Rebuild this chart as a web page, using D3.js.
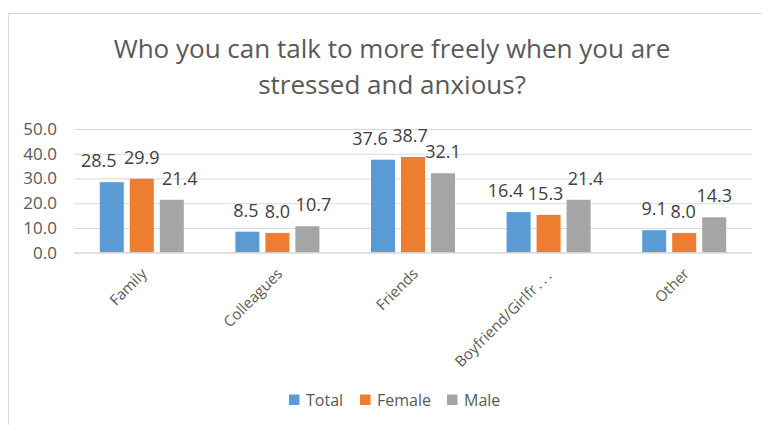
<!DOCTYPE html>
<html>
<head>
<meta charset="utf-8">
<script src="https://cdn.jsdelivr.net/npm/d3@7"></script>
<style>
  html, body { margin: 0; padding: 0; background: #fff; overflow: hidden; }
  svg { display: block; }
  text { font-family: "Open Sans", sans-serif; }
</style>
</head>
<body>
<div id="chart"></div>
<script>
// Survey answers: share of respondents (%) per confidant group
const categories = ["Family", "Colleagues", "Friends", "Boyfriend/Girlfriend", "Other"];
const seriesNames = ["Total", "Female", "Male"];
const totalValues  = [28.5, 8.5, 37.6, 16.4, 9.1];
const femaleValues = [29.9, 8.0, 38.7, 15.3, 8.0];
const maleValues   = [21.4, 10.7, 32.1, 21.4, 14.3];
const yTicks = [0, 10, 20, 30, 40, 50];
const titleLines = ["Who you can talk to more freely when you are", "stressed and anxious?"];

const seriesValues = [totalValues, femaleValues, maleValues];
const colors = ["#5b9bd5", "#ed7d31", "#a5a5a5"];

// Horizontal nudges that keep neighbouring value labels from colliding
const labelShift = [
  [-13, 0, 8],
  [-1.5, 0, 6],
  [-13, -3, 0],
  [-13, -3, 7],
  [0, -1, 0]
];

const W = 762, H = 425;
const plot = { left: 74, right: 752, top: 129, bottom: 252.7 };

const svg = d3.select("#chart").append("svg")
  .attr("width", W).attr("height", H);

// chart frame (runs off the right and bottom edges)
svg.append("rect")
  .attr("x", 8.5).attr("y", 13.5)
  .attr("width", W + 20).attr("height", H + 20)
  .attr("fill", "#fff").attr("stroke", "#d9d9d9").attr("stroke-width", 1);

// title
svg.append("g").selectAll("text").data(titleLines).join("text")
  .attr("x", 392).attr("y", (d, i) => 57.5 + i * 36)
  .attr("text-anchor", "middle")
  .attr("fill", "#595959")
  .attr("font-size", 26)
  .text(d => d);

const x0 = d3.scaleBand().domain(categories).range([plot.left, plot.right]).paddingInner(0).paddingOuter(0);
const barW = 24, barGap = 6;
const x1 = d3.scaleBand().domain(seriesNames)
  .range([-(barW * 1.5 + barGap), barW * 1.5 + barGap])
  .paddingInner(barGap / (barW + barGap)).paddingOuter(0);
const y = d3.scaleLinear().domain([0, 50]).range([plot.bottom, plot.top]);

// gridlines + y tick labels
const yAxis = d3.axisLeft(y).tickValues(yTicks)
  .tickSize(-(plot.right - plot.left)).tickPadding(17)
  .tickFormat(d3.format(".1f"));
const yg = svg.append("g").attr("transform", `translate(${plot.left},0)`).call(yAxis);
yg.select(".domain").remove();
yg.selectAll(".tick line").attr("stroke", "#d9d9d9").attr("stroke-width", 1);
yg.selectAll(".tick text").attr("fill", "#595959").attr("font-size", 17)
  .attr("font-family", "'Open Sans', sans-serif");

// bars
const groups = svg.append("g").selectAll("g").data(categories).join("g")
  .attr("transform", d => `translate(${x0(d) + x0.bandwidth() / 2},0)`);

groups.selectAll("rect")
  .data((c, ci) => seriesNames.map((s, si) => ({ s, si, ci, v: seriesValues[si][ci] })))
  .join("rect")
  .attr("x", d => x1(d.s))
  .attr("width", x1.bandwidth())
  .attr("y", d => y(d.v))
  .attr("height", d => y(0) - y(d.v))
  .attr("fill", d => colors[d.si]);

// value labels
groups.selectAll("text.val")
  .data((c, ci) => seriesNames.map((s, si) => ({ s, si, ci, v: seriesValues[si][ci] })))
  .join("text")
  .attr("class", "val")
  .attr("x", d => x1(d.s) + x1.bandwidth() / 2 + labelShift[d.ci][d.si])
  .attr("y", d => y(d.v) - 15)
  .attr("text-anchor", "middle")
  .attr("fill", "#404040")
  .attr("font-size", 18)
  .text(d => d3.format(".1f")(d.v));

// baseline axis
svg.append("line")
  .attr("x1", plot.left).attr("x2", plot.right)
  .attr("y1", y(0)).attr("y2", y(0))
  .attr("stroke", "#d9d9d9");

// rotated category labels; long names are cut and end in a spaced ellipsis
const maxChars = 16;
const catText = svg.append("g").selectAll("text").data(categories).join("text")
  .attr("transform", d => `translate(${x0(d) + x0.bandwidth() / 2 + 6},${plot.bottom + 22}) rotate(-45)`)
  .attr("text-anchor", "end")
  .attr("fill", "#595959")
  .attr("font-size", 15);
catText.append("tspan").text(d => d.length > maxChars ? d.slice(0, maxChars) : d);
catText.filter(d => d.length > maxChars).append("tspan")
  .attr("dx", 2).attr("letter-spacing", 3).text("...");

// legend
const legendX = [289, 360, 447];
const lg = svg.append("g").selectAll("g").data(seriesNames).join("g")
  .attr("transform", (d, i) => `translate(${legendX[i]},400)`);
lg.append("rect").attr("x", 0).attr("y", -5.5).attr("width", 10.5).attr("height", 10.5)
  .attr("fill", (d, i) => colors[i]);
lg.append("text").attr("x", 17).attr("y", 6)
  .attr("fill", "#595959").attr("font-size", 16)
  .text(d => d);
</script>
</body>
</html>
